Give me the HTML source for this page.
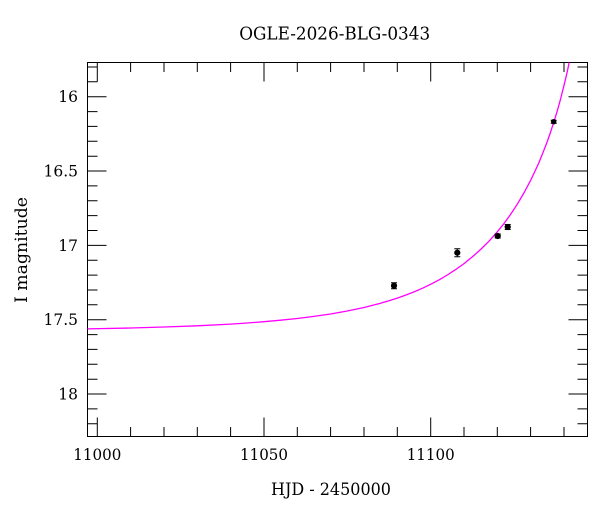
<!DOCTYPE html>
<html>
<head>
<meta charset="utf-8">
<style>
  html, body { margin: 0; padding: 0; background: #ffffff; }
  svg { display: block; }
  text { font-family: "DejaVu Serif", "Liberation Serif", serif; fill: #000; }
</style>
</head>
<body>
<svg width="600" height="512" viewBox="0 0 600 512" xmlns="http://www.w3.org/2000/svg">
  <rect x="0" y="0" width="600" height="512" fill="#ffffff"/>
  <defs>
    <clipPath id="plot">
      <rect x="87.5" y="62.5" width="500" height="374"/>
    </clipPath>
  </defs>

  <!-- Title -->
  <text x="334.7" y="39.5" font-size="17.5" text-anchor="middle" textLength="191" lengthAdjust="spacingAndGlyphs">OGLE-2026-BLG-0343</text>

  <!-- Axis box -->
  <rect x="87.5" y="62.5" width="500" height="374" fill="none" stroke="#000" stroke-width="1"/>

  <!-- X ticks (bottom & top) -->
  <g stroke="#000" stroke-width="1" fill="none">
    <path d="M97.3 436.5 V417.5 M264 436.5 V417.5 M430.7 436.5 V417.5"/>
    <path d="M97.3 62.5 V81.5 M264 62.5 V81.5 M430.7 62.5 V81.5"/>
    <path d="M130.6 436.5 V427 M164 436.5 V427 M197.3 436.5 V427 M230.6 436.5 V427
             M297.3 436.5 V427 M330.6 436.5 V427 M364 436.5 V427 M397.3 436.5 V427
             M464 436.5 V427 M497.3 436.5 V427 M530.6 436.5 V427 M564 436.5 V427"/>
    <path d="M130.6 62.5 V72 M164 62.5 V72 M197.3 62.5 V72 M230.6 62.5 V72
             M297.3 62.5 V72 M330.6 62.5 V72 M364 62.5 V72 M397.3 62.5 V72
             M464 62.5 V72 M497.3 62.5 V72 M530.6 62.5 V72 M564 62.5 V72"/>
  </g>

  <!-- Y ticks (left & right) -->
  <g stroke="#000" stroke-width="1" fill="none">
    <path d="M87.5 96.7 H106.5 M87.5 171 H106.5 M87.5 245.4 H106.5 M87.5 319.7 H106.5 M87.5 394 H106.5"/>
    <path d="M587.5 96.7 H568.5 M587.5 171 H568.5 M587.5 245.4 H568.5 M587.5 319.7 H568.5 M587.5 394 H568.5"/>
    <path d="M87.5 67 H97.5 M87.5 81.8 H97.5 M87.5 111.6 H97.5 M87.5 126.4 H97.5 M87.5 141.3 H97.5 M87.5 156.2 H97.5
             M87.5 185.9 H97.5 M87.5 200.8 H97.5 M87.5 215.6 H97.5 M87.5 230.5 H97.5
             M87.5 260.2 H97.5 M87.5 275.1 H97.5 M87.5 290 H97.5 M87.5 304.8 H97.5
             M87.5 334.6 H97.5 M87.5 349.4 H97.5 M87.5 364.3 H97.5 M87.5 379.2 H97.5
             M87.5 408.9 H97.5 M87.5 423.7 H97.5"/>
    <path d="M587.5 67 H577.5 M587.5 81.8 H577.5 M587.5 111.6 H577.5 M587.5 126.4 H577.5 M587.5 141.3 H577.5 M587.5 156.2 H577.5
             M587.5 185.9 H577.5 M587.5 200.8 H577.5 M587.5 215.6 H577.5 M587.5 230.5 H577.5
             M587.5 260.2 H577.5 M587.5 275.1 H577.5 M587.5 290 H577.5 M587.5 304.8 H577.5
             M587.5 334.6 H577.5 M587.5 349.4 H577.5 M587.5 364.3 H577.5 M587.5 379.2 H577.5
             M587.5 408.9 H577.5 M587.5 423.7 H577.5"/>
  </g>

  <!-- X tick labels -->
  <g font-size="15.5" text-anchor="middle">
    <text x="97.3" y="460" textLength="48" lengthAdjust="spacingAndGlyphs">11000</text>
    <text x="264" y="460" textLength="48" lengthAdjust="spacingAndGlyphs">11050</text>
    <text x="430.7" y="460" textLength="48" lengthAdjust="spacingAndGlyphs">11100</text>
  </g>

  <!-- Y tick labels -->
  <g font-size="15.5" text-anchor="end">
    <text x="78" y="102.2">16</text>
    <text x="78" y="176.5">16.5</text>
    <text x="78" y="250.9">17</text>
    <text x="78" y="325.2">17.5</text>
    <text x="78" y="399.5">18</text>
  </g>

  <!-- Axis titles -->
  <text x="331" y="495" font-size="17" text-anchor="middle" textLength="120" lengthAdjust="spacingAndGlyphs">HJD - 2450000</text>
  <text transform="translate(27,250) rotate(-90)" x="0" y="0" font-size="17" text-anchor="middle" textLength="106" lengthAdjust="spacingAndGlyphs">I magnitude</text>

  <!-- Model curve -->
  <g clip-path="url(#plot)">
    <polyline fill="none" stroke="#ff00ff" stroke-width="1.3" stroke-linejoin="round"
      points="87.3,328.9 130.6,328.0 164.0,327.0 197.3,325.8 230.6,324.1 247.3,323.0 264.0,321.7 280.6,320.2 297.3,318.5 314.0,316.4 330.6,314.0 347.3,311.0 364.0,307.5 380.6,303.2 389.0,300.8 397.3,298.1 405.6,295.1 414.0,291.9 422.3,288.3 430.6,284.3 439.0,279.9 447.3,275.0 455.6,269.6 464.0,263.6 472.3,256.9 480.6,249.5 489.0,241.2 497.3,231.8 504.0,223.5 510.6,214.4 517.3,204.2 523.9,193.0 530.6,180.4 533.9,173.5 539.0,162.5 543.9,150.3 547.3,141.5 550.6,132.0 553.9,121.8 557.3,110.8 560.6,98.9 563.9,85.8 565.6,78.8 567.3,71.5 568.9,63.8 570.6,55.6"/>
  </g>

  <!-- Data points with error bars -->
  <g stroke="#000" stroke-width="1" fill="#000">
    <path d="M394 282.7 V288.7 M391 282.7 H397 M391 288.7 H397" fill="none"/>
    <circle cx="394" cy="285.7" r="2.6"/>

    <path d="M457.3 248.7 V256.7 M454.3 248.7 H460.3 M454.3 256.7 H460.3" fill="none"/>
    <circle cx="457.3" cy="252.7" r="2.6"/>

    <path d="M497.7 234 V238 M494.7 234 H500.7 M494.7 238 H500.7" fill="none"/>
    <circle cx="497.7" cy="236" r="2.6"/>

    <path d="M507.7 224.5 V229.5 M504.7 224.5 H510.7 M504.7 229.5 H510.7" fill="none"/>
    <circle cx="507.7" cy="227" r="2.6"/>

    <path d="M553.7 120.2 V123.2 M550.7 120.2 H556.7 M550.7 123.2 H556.7" fill="none"/>
    <circle cx="553.7" cy="121.7" r="2.2"/>
  </g>
</svg>
</body>
</html>
